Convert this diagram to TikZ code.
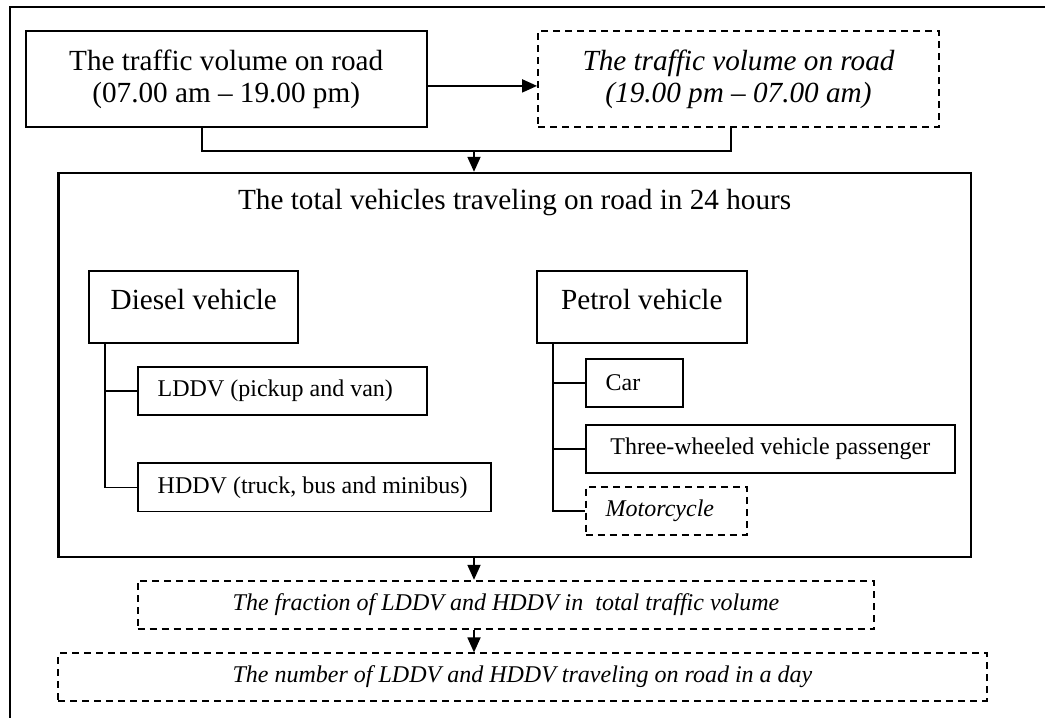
\documentclass[tikz,border=0pt]{standalone}
\usepackage{fontspec}
\setmainfont{Liberation Serif}
\usepackage{tikz}
\usetikzlibrary{positioning, arrows.meta}
\newcommand{\boxfont}{\fontsize{14.6pt}{16pt}\selectfont}
\newcommand{\itemfont}{\fontsize{12pt}{14pt}\selectfont}
\newcommand{\lftbox}[2]{\makebox[#1][l]{#2}}

\begin{document}
\begin{tikzpicture}[x=0.5pt, y=-0.5pt, line width=0.9pt,
    pbox/.style={draw, inner sep=0pt, align=center},
    dbox/.style={pbox, dash pattern=on 3.5pt off 2.5pt},
    ibox/.style={pbox, font=\itemfont, minimum height=24.15pt, inner xsep=10pt},
    arr/.style={-{Triangle[length=7.5pt, width=6.5pt]}}]
  \useasboundingbox (0,0) rectangle (1045,718);
  \draw[line width=1pt] (10,718) |- (1045,7);
  \node[pbox, font=\boxfont, minimum width=200.5pt, minimum height=47.8pt] (tvday) at (226.2,78.9)
    {The traffic volume on road\\(07.00 am – 19.00 pm)};
  \node[dbox, font=\boxfont\itshape, minimum width=200.5pt, minimum height=48pt] (tvnight) at (738.5,79)
    {The traffic volume on road\\(19.00 pm – 07.00 am)};
  \coordinate (tvout) at ([yshift=-3.5pt]tvday.east);
  \draw[arr] (tvout) -- (tvout -| tvnight.west);
  \coordinate (mrg) at (474,151);
  \draw ([xshift=-12.25pt]tvday.south) |- (mrg) -| ([xshift=-3.9pt]tvnight.south);
  \node[pbox, line width=1.2pt, minimum width=456.35pt, minimum height=192pt] (total) at (514.65,365) {};
  \node[font=\boxfont] (totaltxt) at (514.65,203) {The total vehicles traveling on road in 24 hours};
  \draw[arr] (mrg) -- (mrg |- total.north);
  \node[pbox, font=\boxfont, minimum width=104.5pt, text height=19pt, text depth=17.15pt] (diesel) at (193.8,307.15)
    {Diesel vehicle};
  \node[pbox, font=\boxfont, minimum width=104.85pt, text height=19pt, text depth=17.15pt] (petrol) at (641.85,307.15)
    {Petrol vehicle};
  \node[ibox] (lddv) at (282.2,390.85) {\lftbox{124.5pt}{LDDV (pickup and van)}};
  \node[ibox] (hddv) at (314.2,487.4) {\lftbox{156.5pt}{HDDV (truck, bus and minibus)}};
  \node[ibox] (car) at (634.2,383.15) {\lftbox{28.5pt}{Car}};
  \node[ibox, minimum width=184.65pt] (threew) at (770.35,449.15) {Three-wheeled vehicle passenger};
  \node[dbox, ibox, font=\itemfont\itshape] (moto) at (666.2,511) {\lftbox{60.5pt}{Motorcycle}};
  \foreach \v in {lddv, hddv}
    \draw ([xshift=8.35pt]diesel.south west) |- (\v.west);
  \foreach \v in {car, threew, moto}
    \draw ([xshift=8.5pt]petrol.south west) |- (\v.west);
  \node[dbox, font=\itemfont\itshape, minimum width=368.3pt, minimum height=24.15pt] (frac) at (506,604.85)
    {The fraction of LDDV and HDDV in \ total traffic volume};
  \node[dbox, font=\itemfont\itshape, minimum width=464.2pt, minimum height=23.7pt] (num) at (522.5,677)
    {The number of LDDV and HDDV traveling on road in a day};
  \draw[arr] (mrg |- total.south) -- (mrg |- frac.north);
  \draw[arr] (mrg |- frac.south) -- (mrg |- num.north);
\end{tikzpicture}
\end{document}
